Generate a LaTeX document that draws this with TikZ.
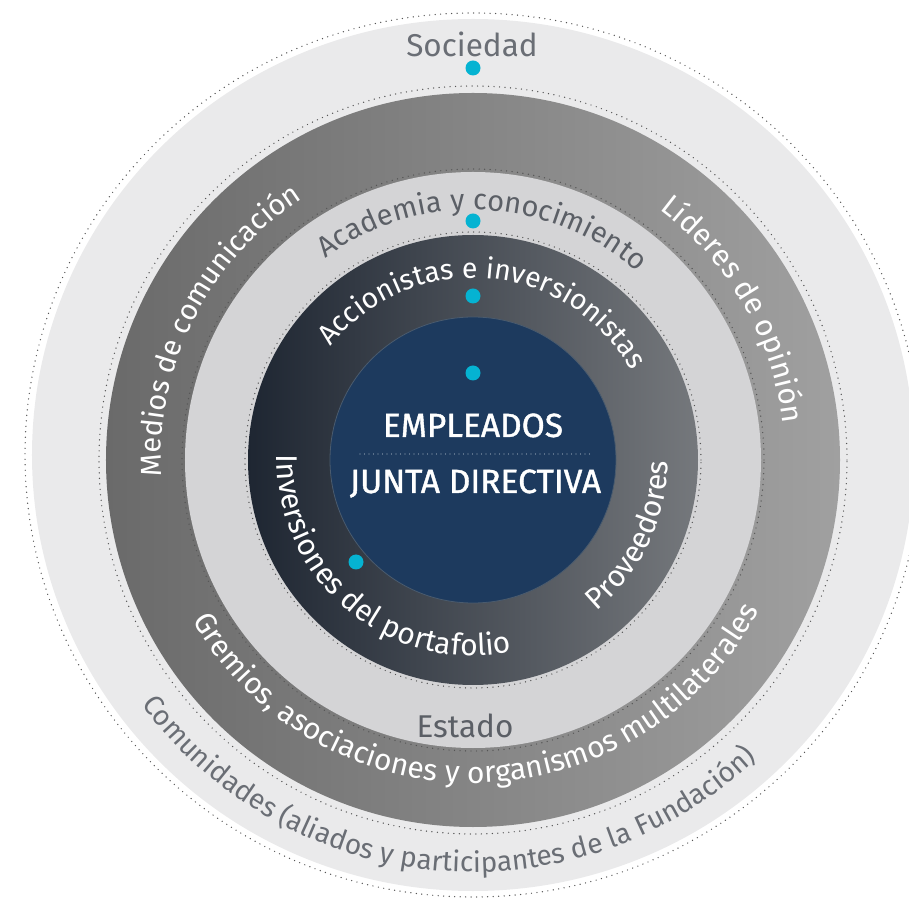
\documentclass[tikz,border=0pt]{standalone}
\usepackage{fontspec}
\setmainfont{Fira Sans}
\newfontfamily\ctrfamily{Fira Sans}[FakeBold=1.2]
\usetikzlibrary{decorations.text}
\definecolor{outerfill}{HTML}{EAEAEB}
\definecolor{ringdarkL}{HTML}{6A6A6A}
\definecolor{ringdarkR}{HTML}{A0A0A0}
\definecolor{ringlight}{HTML}{D4D4D6}
\definecolor{innerL}{HTML}{1E2632}
\definecolor{innerR}{HTML}{75787C}
\definecolor{navy}{HTML}{1D3A5E}
\definecolor{navyedge}{HTML}{4A5B6E}
\definecolor{cyandot}{HTML}{05B3D2}
\definecolor{labelgrey}{HTML}{5B5F66}
\definecolor{labelgreyl}{HTML}{6A6E75}
\definecolor{dotline}{HTML}{555555}
\definecolor{sepline}{HTML}{9AA8B8}
\newcommand\lblsize[1]{\fontsize{#1}{36}\selectfont}
\newcommand\ctrfont{\ctrfamily\fontsize{33.5}{38}\selectfont}
\begin{document}
\begin{tikzpicture}[x=1pt,y=1pt,
  dotring/.style={draw=dotline, line width=1.4pt, line cap=round, dash pattern=on 0pt off 5.5pt},
  bluedot/.style={circle, fill=cyandot, inner sep=0pt, minimum size=15pt},
  curvelabel/.style={decorate, decoration={text along path, text align=center, text color=#1}},
  flatlabel/.style={anchor=base, inner sep=0pt, font=\lblsize{31.5}, text=#1},
  ctrlabel/.style={anchor=base, inner sep=0pt, font=\ctrfont, text=white},
]
\useasboundingbox (-473,-441) rectangle (436,460);
\clip (-473,-441) rectangle (436,460);
% rings
\draw[dotring] (0,5) ellipse [x radius=448, y radius=442];
\fill[outerfill] (0,5) ellipse [x radius=441, y radius=436];
\draw[dotring] (0,0) circle (374);
\shade[left color=ringdarkL, right color=ringdarkR] (0,0) circle (367);
\fill[ringlight] (0,0) circle (288);
\draw[dotring] (0,0) circle (291);
\shade[left color=innerL, right color=innerR] (0,0) circle (225);
\draw[dotring] (0,0) circle (228);
\fill[navy, draw=navyedge, line width=0.8pt] (0,0) circle (143);
% curved labels
\path[curvelabel=white, decoration={text={|\lblsize{29}|Medios de comunicación}}] (233:312) arc[start angle=233, end angle=73, radius=312];
\path[curvelabel=white, decoration={text={|\lblsize{30}|Líderes de opinión}}] (100:312) arc[start angle=100, end angle=-40, radius=312];
\path[curvelabel=labelgrey, decoration={text={|\lblsize{29}|Academia y conocimiento}}] (167.5:250) arc[start angle=167.5, end angle=7.5, radius=250];
\path[curvelabel=white, decoration={text={|\lblsize{28.5}|Accionistas e inversionistas}}] (170.5:182) arc[start angle=170.5, end angle=0.5, radius=182];
\path[curvelabel=white, decoration={text={|\lblsize{30}|Inversiones del portafolio}}] (150:196) arc[start angle=150, end angle=310, radius=196];
\path[curvelabel=white, decoration={text={|\lblsize{30}|Proveedores}}] (274.5:195) arc[start angle=274.5, end angle=394.5, radius=195];
\path[curvelabel=white, decoration={text={|\lblsize{30}|Gremios, asociaciones y organismos multilaterales}}] (183:323) arc[start angle=183, end angle=359, radius=323];
\path[curvelabel=labelgreyl, decoration={text={|\lblsize{28}|Comunidades (aliados y participantes de la Fundación)}}] (190:412) arc[start angle=190, end angle=340, radius=412];
% straight labels
\node[flatlabel=labelgreyl] (sociedad) at (-1,403) {Sociedad};
\node[flatlabel=labelgrey] (estado) at (-8,-277) {Estado};
\node[ctrlabel] (empleados) at (0,23) {EMPLEADOS};
\node[ctrlabel] (junta) at (2.5,-33) {JUNTA DIRECTIVA};
\coordinate (sepL) at (-113,6);
\coordinate (sepR) at (120,6);
\draw[draw=sepline, line width=1.2pt, line cap=round, dash pattern=on 0pt off 4.5pt] (sepL) -- (sepR);
% dots
\node[bluedot] (d1) at (0,392) {};
\node[bluedot] (d2) at (0,239) {};
\node[bluedot] (d3) at (0,164) {};
\node[bluedot] (d4) at (0,87) {};
\node[bluedot] (d5) at (-117,-102) {};
\end{tikzpicture}
\end{document}
